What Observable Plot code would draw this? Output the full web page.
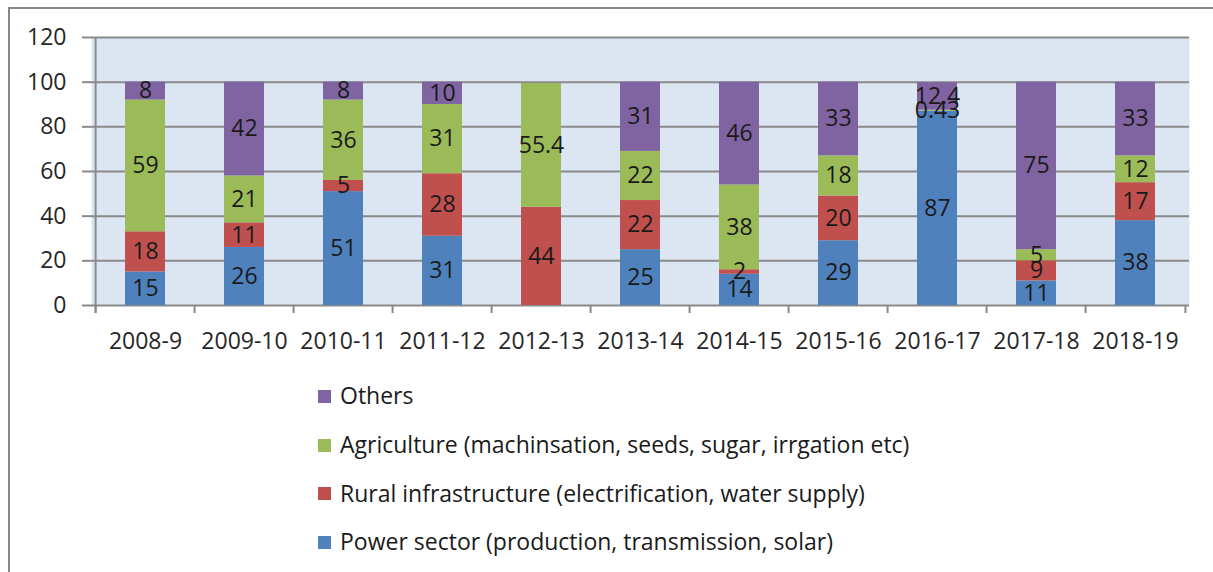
<!DOCTYPE html>
<html>
<head>
<meta charset="utf-8">
<script src="https://cdn.jsdelivr.net/npm/d3@7"></script>
<script src="https://cdn.jsdelivr.net/npm/@observablehq/plot@0.6"></script>
<style>
  html, body { margin: 0; padding: 0; background: #fff; }
  body { width: 1213px; height: 572px; overflow: hidden; position: relative; font-family: "Open Sans", Lato, sans-serif; }
  #border { position: absolute; left: 8px; top: 7px; width: 1300px; height: 700px; border-left: 2px solid #878787; border-top: 2px solid #878787; box-sizing: border-box; }
  #chart { position: absolute; left: 0; top: 0; }
  #legend { position: absolute; left: 318px; top: 371px; font-size: 23px; color: #1a1a1a; }
  .item { display: flex; align-items: center; height: 48.7px; }
  .sw { width: 13px; height: 13px; margin-right: 9px; margin-top: 2px; }
</style>
</head>
<body>
<div id="border"></div>
<div id="chart"></div>
<div id="legend"></div>
<script>
const categories = ["2008-9","2009-10","2010-11","2011-12","2012-13","2013-14","2014-15","2015-16","2016-17","2017-18","2018-19"];
const power  = [15, 26, 51, 31, 0,    25, 14, 29, 87,   11, 38];
const rural  = [18, 11, 5,  28, 44,   22, 2,  20, 0,    9,  17];
const agri   = [59, 21, 36, 31, 55.4, 22, 38, 18, 0.43, 5,  12];
const others = [8,  42, 8,  10, 0,    31, 46, 33, 12.4, 75, 33];
const seriesNames = [
  "Power sector (production, transmission, solar)",
  "Rural infrastructure (electrification, water supply)",
  "Agriculture (machinsation, seeds, sugar, irrgation etc)",
  "Others"
];
const seriesColors = ["#4f81bd", "#c0504d", "#9bbb59", "#8064a2"];
const yTicks = [0, 20, 40, 60, 80, 100, 120];

const seriesValues = [power, rural, agri, others];
const rows = [];
seriesNames.forEach((s, i) => {
  categories.forEach((c, j) => rows.push({category: c, series: s, value: seriesValues[i][j]}));
});
const labelRows = rows.filter(d => d.value > 0);

const W = 1213, H = 365;
const mL = 91, mR = 24, mT = 37, mB = 60;
const step = (W - mL - mR) / categories.length;
const font = "'Open Sans', Lato, sans-serif";

const chart = Plot.plot({
  width: W,
  height: H,
  marginLeft: mL,
  marginRight: mR,
  marginTop: mT,
  marginBottom: mB,
  style: {fontFamily: font, fontSize: "23px", color: "#262626", background: "transparent"},
  x: {domain: categories, paddingInner: 0.6, paddingOuter: 0.3, label: null},
  y: {domain: [0, 120], label: null},
  color: {domain: seriesNames, range: seriesColors},
  marks: [
    Plot.frame({fill: "#dce6f2", stroke: null}),
    Plot.gridY(yTicks, {stroke: "#8a8a8a", strokeOpacity: 1, strokeWidth: 2}),
    Plot.barY(rows, Plot.stackY({x: "category", y: "value", fill: "series", order: seriesNames})),
    Plot.text(labelRows, Plot.stackY({x: "category", y: "value", z: "series", order: seriesNames, text: d => String(d.value), fill: "#1a1a1a", fontSize: 23})),
    Plot.ruleX(categories, {x: d => d, y1: 0, y2: -3.6, dx: -step / 2, stroke: "#8a8a8a", strokeWidth: 2}),
    Plot.ruleX(categories.slice(-1), {x: d => d, y1: 0, y2: -3.6, dx: step / 2, stroke: "#8a8a8a", strokeWidth: 2}),
    Plot.ruleX([categories[0]], {x: d => d, y1: -3.6, y2: 120, dx: -step / 2, stroke: "#8a8a8a", strokeWidth: 2}),
    Plot.axisY({ticks: yTicks, tickSize: 9, tickPadding: 16, stroke: "#8a8a8a", strokeWidth: 2, fill: "#262626", label: null}),
    Plot.axisX({tickSize: 0, tickPadding: 27, fill: "#262626", label: null})
  ]
});
document.getElementById("chart").appendChild(chart);

const legend = document.getElementById("legend");
for (let i = seriesNames.length - 1; i >= 0; i--) {
  const item = document.createElement("div");
  item.className = "item";
  const sw = document.createElement("span");
  sw.className = "sw";
  sw.style.background = seriesColors[i];
  const t = document.createElement("span");
  t.textContent = seriesNames[i];
  item.appendChild(sw);
  item.appendChild(t);
  legend.appendChild(item);
}
</script>
</body>
</html>
